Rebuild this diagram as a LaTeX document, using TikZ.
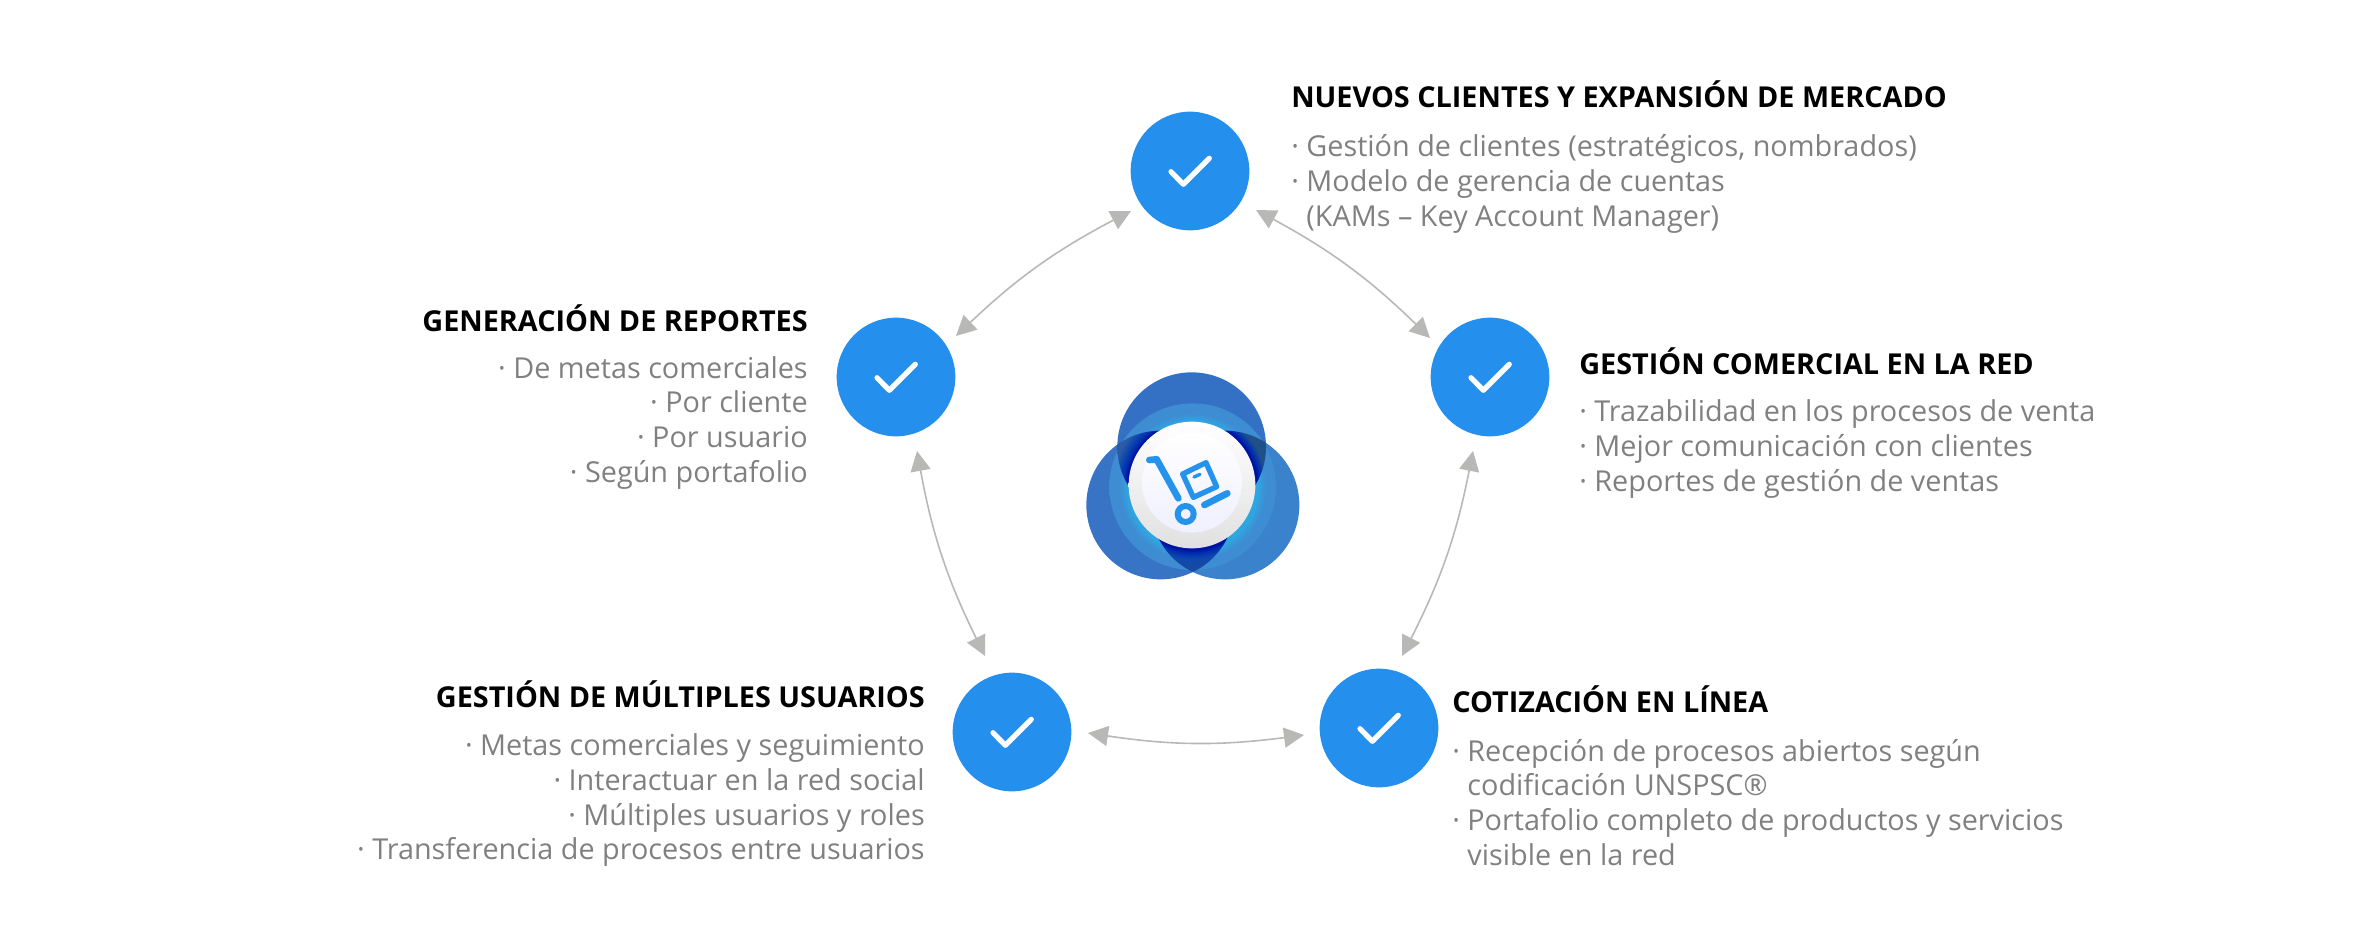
\documentclass[tikz,border=0pt]{standalone}
\usepackage{fontspec}
\setmainfont{Open Sans}
\usetikzlibrary{arrows.meta}
\definecolor{nodeblue}{HTML}{248FEC}
\definecolor{arrgray}{HTML}{B8B8B6}
\definecolor{bodygray}{HTML}{808080}
\definecolor{blueA}{HTML}{3470C4}
\definecolor{blueB}{HTML}{3874C6}
\definecolor{blueC}{HTML}{3A82CC}
\definecolor{ringout}{HTML}{3E8CD2}
\definecolor{ringin}{HTML}{2FA6E0}
\definecolor{navy}{HTML}{0012A0}
\definecolor{navymid}{HTML}{0030B0}
\definecolor{lensmid}{HTML}{0F48AC}
\definecolor{lensAB}{HTML}{2A5AA8}
\definecolor{lensAC}{HTML}{205088}
\definecolor{lensBC}{HTML}{1C4E9C}
\definecolor{iconblue}{HTML}{2592EC}
\pgfdeclareradialshading{ringshade}{\pgfpoint{0bp}{0bp}}{color(0bp)=(ringin); color(19.5bp)=(ringin); color(22bp)=(ringout); color(50bp)=(ringout)}
\pgfdeclareradialshading{lensshadeAB}{\pgfpoint{0bp}{0bp}}{color(0bp)=(navy); color(18bp)=(navy); color(19bp)=(navymid); color(20.5bp)=(lensmid); color(22bp)=(lensAB); color(50bp)=(lensAB)}
\pgfdeclareradialshading{lensshadeAC}{\pgfpoint{0bp}{0bp}}{color(0bp)=(navy); color(18bp)=(navy); color(19bp)=(navymid); color(20.5bp)=(lensAC); color(50bp)=(lensAC)}
\pgfdeclareradialshading{lensshadeBC}{\pgfpoint{0bp}{0bp}}{color(0bp)=(navy); color(18bp)=(navy); color(19bp)=(navymid); color(20.5bp)=(lensmid); color(25bp)=(lensBC); color(50bp)=(lensBC)}
\newcommand\fs{\rule{0pt}{20pt}}
\newcommand\ind{\phantom{·\ }}
\tikzset{
  x=0.75pt,y=-0.75pt,
  checknode/.style={circle,fill=nodeblue,minimum size=89pt,inner sep=0pt,
    path picture={\draw[white,line width=3.9pt,line cap=round,line join=round]
      ([shift={(-19,0.7)}]path picture bounding box.center) --
      ([shift={(-6.7,13.3)}]path picture bounding box.center) --
      ([shift={(19.3,-12.7)}]path picture bounding box.center);}},
  link/.style={draw=arrgray,line width=1.2pt,{Triangle[length=15pt,width=15pt]}-{Triangle[length=15pt,width=15pt]}},
  titleR/.style={anchor=base west,inner sep=0pt,font=\fontsize{21.6}{26}\selectfont\bfseries,text=black},
  titleL/.style={anchor=base east,inner sep=0pt,font=\fontsize{21.6}{26}\selectfont\bfseries,text=black},
  bodyR/.style={anchor=north west,inner sep=0pt,align=left,font=\fontsize{21.6}{25.9}\selectfont,text=bodygray},
  bodyL/.style={anchor=north east,inner sep=0pt,align=right,font=\fontsize{21.6}{25.9}\selectfont,text=bodygray},
  iconline/.style={draw=iconblue,line cap=round,line join=round},
}
\begin{document}
\begin{tikzpicture}
\useasboundingbox (0,0) rectangle (2365,949);
% central emblem
\begin{scope}[shift={(1040,340)},x=0.25pt,y=-0.25pt]
  \def\cA{(455,320) circle[radius=223]}
  \def\cB{(362,495) circle[radius=223]}
  \def\cC{(555,495) circle[radius=223]}
  \def\cR{(458,440) circle[radius=250]}
  \def\cL{(456,435) circle[radius=270]}
  \fill[blueB] \cB;
  \fill[blueC] \cC;
  \fill[blueA] \cA;
  \begin{scope}\clip (362,495) circle[radius=223] (555,495) circle[radius=223] (455,320) circle[radius=223];
    \shade[shading=ringshade] \cR;
  \end{scope}
  \begin{scope}\clip \cA; \clip \cB; \shade[shading=lensshadeAB] \cL; \end{scope}
  \begin{scope}\clip \cA; \clip \cC; \shade[shading=lensshadeAC] \cL; \end{scope}
  \begin{scope}\clip \cB; \clip \cC; \shade[shading=lensshadeBC] \cL; \end{scope}
  \shade[top color=white,bottom color=black!12] (456,435) circle[radius=190];
  \shade[top color=white,bottom color=blue!6] (456,428) circle[radius=150];
  \draw[iconline,line width=5pt] (328,360) -- (350,358) -- (415,475);
  \draw[iconline,line width=4.5pt] (437,522) circle[radius=24];
  \draw[iconline,line width=5pt] (493,495) -- (562,460);
  \draw[iconline,line width=4pt] (428,402) -- (498,368) -- (530,440) -- (460,472) -- cycle;
  \draw[iconline,line width=2.5pt] (462,411) -- (480,403);
\end{scope}
% nodes
\node[checknode] (top) at (1190,171) {};
\node[checknode] (right) at (1490,377) {};
\node[checknode] (left) at (896,377) {};
\node[checknode] (bl) at (1012,732) {};
\node[checknode] (br) at (1379,728) {};
% connectors
\draw[link] ([shift={(66,39)}]top.center) to[bend left=8] ([shift={(-60,-39)}]right.center);
\draw[link] ([shift={(-17,74)}]right.center) to[bend left=8] ([shift={(23,-72)}]br.center);
\draw[link] ([shift={(-75,7)}]br.center) to[bend left=8] ([shift={(76,1)}]bl.center);
\draw[link] ([shift={(-27,-76)}]bl.center) to[bend left=8] ([shift={(21,74)}]left.center);
\draw[link] ([shift={(60,-41)}]left.center) to[bend left=8] ([shift={(-59,40)}]top.center);
% texts
\node[titleR] (t1) at (1291,108) {NUEVOS CLIENTES Y EXPANSIÓN DE MERCADO};
\node[bodyR] (b1) at (1291,130) {\fs· Gestión de clientes (estratégicos, nombrados)\\· Modelo de gerencia de cuentas\\\ind(KAMs – Key Account Manager)};
\node[titleR] (t2) at (1579,374) {GESTIÓN COMERCIAL EN LA RED};
\node[bodyR] (b2) at (1579,395) {\fs· Trazabilidad en los procesos de venta\\· Mejor comunicación con clientes\\· Reportes de gestión de ventas};
\node[titleR] (t3) at (1452,712) {COTIZACIÓN EN LÍNEA};
\node[bodyR] (b3) at (1452,734.5) {\fs· Recepción de procesos abiertos según\\\ind codificación UNSPSC®\\· Portafolio completo de productos y servicios\\\ind visible en la red};
\node[titleL] (t4) at (808,331) {GENERACIÓN DE REPORTES};
\node[bodyL] (b4) at (808,351.5) {\fs· De metas comerciales\\· Por cliente\\· Por usuario\\· Según portafolio};
\node[titleL] (t5) at (925,707) {GESTIÓN DE MÚLTIPLES USUARIOS};
\node[bodyL] (b5) at (925,729) {\fs· Metas comerciales y seguimiento\\· Interactuar en la red social\\· Múltiples usuarios y roles\\· Transferencia de procesos entre usuarios};
\end{tikzpicture}
\end{document}
